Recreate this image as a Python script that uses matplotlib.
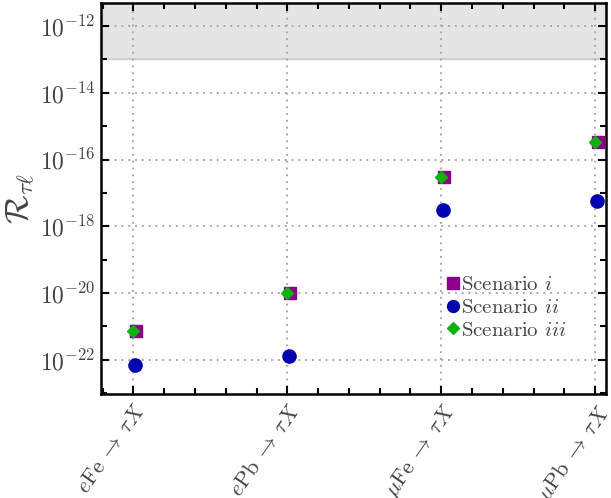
import matplotlib
matplotlib.use("Agg")
import matplotlib.pyplot as plt
import numpy as np
from matplotlib.ticker import FixedLocator, NullFormatter, MultipleLocator

plt.rcParams['font.family'] = 'serif'
plt.rcParams['font.serif'] = ['cmr10', 'DejaVu Serif']
plt.rcParams['mathtext.fontset'] = 'cm'
plt.rcParams['axes.formatter.use_mathtext'] = True

categories = [r'$e\mathrm{Fe}\:\rightarrow\:\tau X$', r'$e\mathrm{Pb}\:\rightarrow\:\tau X$',
              r'$\mu\mathrm{Fe}\:\rightarrow\:\tau X$', r'$\mu\mathrm{Pb}\:\rightarrow\:\tau X$']
scen_i = [7.5e-22, 1.0e-20, 3.1e-17, 3.3e-16]
scen_ii = [7.0e-23, 1.3e-22, 3.1e-18, 5.9e-18]
scen_iii = [7.3e-22, 9.8e-21, 3.0e-17, 3.3e-16]
bound = 1e-13
ytick_vals = [1e-22, 1e-20, 1e-18, 1e-16, 1e-14, 1e-12]
yminor_vals = [1e-23, 1e-21, 1e-19, 1e-17, 1e-15, 1e-13]

fig = plt.figure(figsize=(6.11, 4.98), dpi=100)
ax = fig.add_axes([101/611, 1-394/498, (606-101)/611, (394-3)/498])

x = np.arange(len(categories))
ylo, yhi = 9.5e-24, 4.9e-12
ax.axhspan(bound, yhi, color='#e5e5e5', zorder=0)
ax.axhline(bound, color='#cccccc', lw=1.2, zorder=0.5)

ax.plot(x + 0.02, scen_i, ls='none', marker='s', ms=9, color='#8b008b', label=r'Scenario $i$', zorder=3)
ax.plot(x + 0.01, scen_ii, ls='none', marker='o', ms=9.5, color='#0000b0', label=r'Scenario $ii$', zorder=3)
ax.plot(x, scen_iii, ls='none', marker='D', ms=6.5, color='#10b010', label=r'Scenario $iii$', zorder=4)

ax.set_yscale('log')
ax.set_ylim(ylo, yhi)
ax.set_xlim(-0.21, 3.07)
ax.yaxis.set_major_locator(FixedLocator(ytick_vals))
ax.yaxis.set_minor_locator(FixedLocator(yminor_vals))
ax.yaxis.set_minor_formatter(NullFormatter())
ax.set_xticks(x)
ax.set_xticklabels(categories, rotation=55, ha='right', rotation_mode='anchor', fontsize=16, color='#444444')
ax.xaxis.set_minor_locator(MultipleLocator(0.2))

ax.tick_params(which='both', direction='in', top=True, right=True, width=1.5)
ax.tick_params(which='major', length=6)
ax.tick_params(which='minor', length=4)
ax.tick_params(axis='y', labelsize=17, labelcolor='#444444', pad=4)
ax.tick_params(axis='x', pad=5)

for s in ax.spines.values():
    s.set_linewidth(1.8)

ax.grid(True, which='major', ls=(0, (1, 2.5)), color='#aaaaaa', lw=1.4)
ax.set_axisbelow(True)

ax.set_ylabel(r'$\mathcal{R}_{\tau\ell}$', fontsize=24, color='#444444', labelpad=2)

leg = ax.legend(loc='upper left', bbox_to_anchor=(0.66, 0.335), frameon=False, fontsize=15,
                handlelength=0.6, handletextpad=0.1, labelspacing=0.2, borderpad=0.1,
                labelcolor='#444444', markerscale=0.9)

fig.savefig('out.png', dpi=100)
